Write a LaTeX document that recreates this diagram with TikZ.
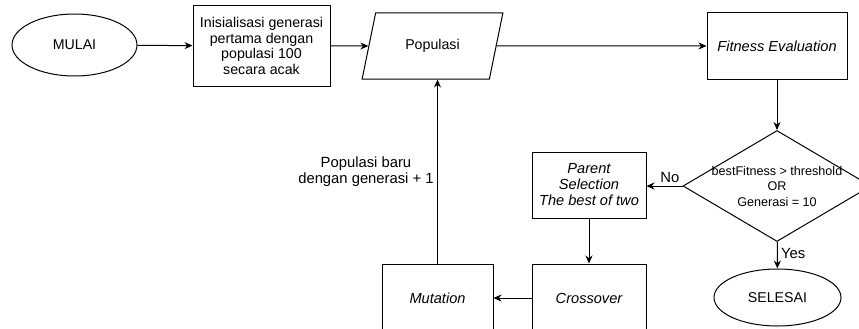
\documentclass[tikz,border=0pt]{standalone}
\usepackage{fontspec}
\setmainfont{Liberation Sans}
\usetikzlibrary{shapes.geometric,arrows.meta}
\begin{document}
\begin{tikzpicture}[x=1pt,y=-1pt,
  font=\fontsize{14.2}{15.8}\selectfont,
  every node/.style={line width=1pt},
  box/.style={draw, rectangle, align=center, inner sep=2pt},
  term/.style={draw, ellipse, inner sep=0pt},
  arr/.style={line width=1pt, -{Stealth[length=8pt,width=7pt]}},
  lbl/.style={draw=none, font=\fontsize{14.8}{15.5}\selectfont, align=center}]
\useasboundingbox (0,0) rectangle (859,329);
\node[term, minimum width=125, minimum height=62] (mulai) at (74.5,45) {MULAI};
\node[box, minimum width=137, minimum height=80] (init) at (261.5,46)
  {Inisialisasi generasi\\pertama dengan\\populasi 100\\secara acak};
\node[draw, trapezium, trapezium left angle=70, trapezium right angle=110,
  trapezium stretches=true, minimum width=141, minimum height=66] (pop) at (432.5,46) {Populasi};
\node[box, minimum width=140, minimum height=66, font=\fontsize{14.6}{16}\selectfont\itshape] (fit) at (777,46) {Fitness Evaluation};
\node[draw, diamond, minimum width=188, minimum height=111, aspect=1.7, inner sep=-10pt,
  align=center, font=\fontsize{12.6}{15.5}\selectfont] (dec) at (777,186)
  {bestFitness > threshold\\OR\\Generasi = 10};
\node[term, minimum width=127, minimum height=57] (sel) at (777.5,297.5) {SELESAI};
\node[box, minimum width=114, minimum height=66, font=\fontsize{14.6}{16}\selectfont\itshape] (par) at (589,185)
  {Parent\\Selection\\The best of two};
\node[box, minimum width=114, minimum height=68, font=\fontsize{14.6}{16}\selectfont\itshape] (cross) at (589,298) {Crossover};
\node[box, minimum width=111, minimum height=68, font=\fontsize{14.6}{16}\selectfont\itshape] (mut) at (437.5,298) {Mutation};
\draw[arr] (mulai) -- (init);
\draw[arr] (init) -- (pop.west);
\draw[arr] (pop.east) -- (fit.west);
\draw[arr] (fit) -- (dec);
\draw[arr] (dec.west) -- node[lbl, above, pos=0.35] {No} (dec.west -| par.east);
\draw[arr] (dec) -- node[lbl, right, pos=0.45] {Yes} (sel);
\draw[arr] (par) -- (cross);
\draw[arr] (cross) -- (mut);
\draw[arr] (mut.north) -- node[lbl, left, pos=0.5] {Populasi baru\\dengan generasi + 1} (mut.north |- pop.south);
\end{tikzpicture}
\end{document}
